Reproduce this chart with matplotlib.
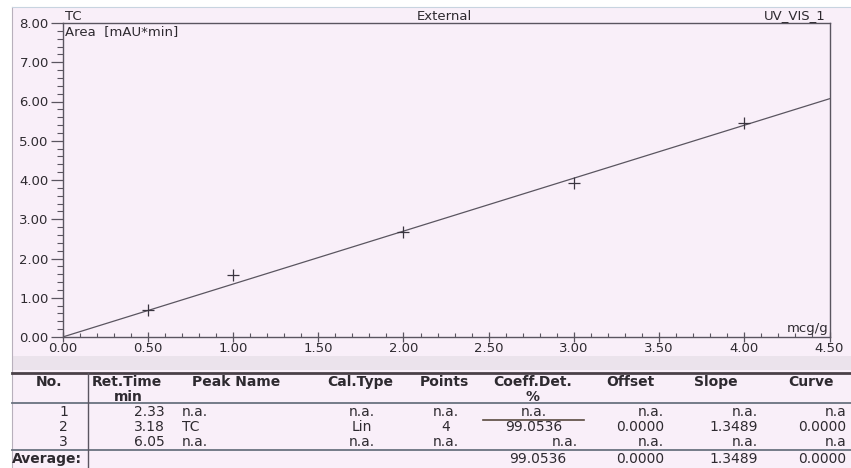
import matplotlib
matplotlib.use("Agg")
import matplotlib.pyplot as plt
from matplotlib.ticker import MultipleLocator, FormatStrFormatter
from matplotlib.lines import Line2D
from matplotlib.patches import Rectangle

# ---------------- data ----------------
conc = [0.5, 1.0, 2.0, 3.0, 4.0]          # mcg/g
area = [0.68, 1.58, 2.67, 3.92, 5.46]     # mAU*min
fit_offset = 0.0
fit_slope = 1.3489
x_range = [0.0, 4.5]
y_range = [0.0, 8.0]

col_no = ["1", "2", "3"]
col_ret = ["2.33", "3.18", "6.05"]
col_peak = ["n.a.", "TC", "n.a."]
col_cal = ["n.a.", "Lin", "n.a."]
col_points = ["n.a.", "4", "n.a."]
col_coeff = ["n.a.", "99.0536", "n.a."]
col_offset = ["n.a.", "0.0000", "n.a."]
col_slope = ["n.a.", "1.3489", "n.a."]
col_curve = ["n.a", "0.0000", "n.a"]
avg_row = ["99.0536", "0.0000", "1.3489", "0.0000"]

# ---------------- figure ----------------
W, H = 851, 468
BG = "#f9eff9"
TXT = "#2e2a30"
LN = "#5a5560"
FONT = "DejaVu Sans"

fig = plt.figure(figsize=(W / 100, H / 100), dpi=100, facecolor=BG)


def fx(x):
    return x / W


def fy(y):
    return 1 - y / H


# page decorations (scan edges)
fig.patches.append(Rectangle((0, fy(7)), 1, 7 / H, transform=fig.transFigure,
                             facecolor="white", edgecolor="none", zorder=0))
fig.patches.append(Rectangle((0, 0), fx(12), 1, transform=fig.transFigure,
                             facecolor="white", edgecolor="none", zorder=0))
fig.patches.append(Rectangle((fx(12), fy(370)), 1, 14 / H, transform=fig.transFigure,
                             facecolor="#ebe3ec", edgecolor="none", zorder=0))
fig.lines.append(Line2D([fx(12), fx(12)], [0, fy(7)], transform=fig.transFigure,
                        color="#b8b0bc", lw=0.8))
fig.lines.append(Line2D([fx(12), 1], [fy(7), fy(7)], transform=fig.transFigure,
                        color="#c8d4e0", lw=0.8))

# axes: left 62.7, right 829.5, top 23, bottom 337 (px)
L, R, T, B = 62.7, 829.5, 23, 337
ax = fig.add_axes([fx(L), fy(B), fx(R - L), (B - T) / H])
ax.set_facecolor(BG)
ax.set_xlim(*x_range)
ax.set_ylim(*y_range)

xl = list(x_range)
yl = [fit_offset + fit_slope * v for v in xl]
ax.plot(xl, yl, color=LN, lw=0.9, zorder=2)
ax.plot(conc, area, linestyle="none", marker="+", markersize=9,
        markeredgewidth=0.9, color="#3a3540", zorder=3)

for s in ax.spines.values():
    s.set_color(LN)
    s.set_linewidth(1.0)

ax.xaxis.set_major_locator(MultipleLocator(0.5))
ax.xaxis.set_minor_locator(MultipleLocator(0.1))
ax.yaxis.set_major_locator(MultipleLocator(1.0))
ax.yaxis.set_minor_locator(MultipleLocator(0.2))
ax.xaxis.set_major_formatter(FormatStrFormatter("%.2f"))
ax.yaxis.set_major_formatter(FormatStrFormatter("%.2f"))
ax.tick_params(axis="y", which="major", direction="out", length=9, width=0.9,
               color=LN, labelsize=9.5, labelcolor=TXT, pad=1)
ax.tick_params(axis="y", which="minor", direction="out", length=4, width=0.8, color=LN)
ax.tick_params(axis="x", which="major", direction="inout", length=7, width=0.9,
               color=LN, labelsize=9.5, labelcolor=TXT, pad=0)
ax.tick_params(axis="x", which="minor", direction="in", length=3, width=0.8, color=LN)
for lab in ax.get_xticklabels() + ax.get_yticklabels():
    lab.set_family(FONT)

fs = 9.5
ax.text(0.003, 1.0 - 2 / (B - T), "Area  [mAU*min]", transform=ax.transAxes,
        ha="left", va="top", fontsize=fs, color=TXT, family=FONT)
ax.text(0.999, 0.005, "mcg/g", transform=ax.transAxes, ha="right", va="bottom",
        fontsize=fs, color=TXT, family=FONT)
fig.text(fx(65), fy(16), "TC", ha="left", va="center", fontsize=fs, color=TXT, family=FONT)
fig.text(fx(444), fy(16), "External", ha="center", va="center", fontsize=fs,
         color=TXT, family=FONT)
fig.text(fx(826), fy(16), "UV_VIS_1", ha="right", va="center", fontsize=fs,
         color=TXT, family=FONT)

# ---------------- table ----------------
tfs = 10
hfs = 10


def hline(y, x0, x1, lw, color=LN):
    fig.lines.append(Line2D([fx(x0), fx(x1)], [fy(y), fy(y)],
                            transform=fig.transFigure, color=color, lw=lw))


hline(373, 12, 851, 2.0, "#4a4048")
hline(403, 12, 851, 1.3, "#6a7280")
hline(450, 12, 851, 1.3, "#6a7280")
hline(420, 483, 584, 1.2, "#5a4a40")
fig.lines.append(Line2D([fx(88), fx(88)], [fy(373), 0], transform=fig.transFigure,
                        color=LN, lw=1.0))


def t(x, y, s, ha="left", bold=False):
    fig.text(fx(x), fy(y), s, ha=ha, va="center", fontsize=hfs if bold else tfs,
             fontweight="bold" if bold else "normal", color=TXT, family=FONT)


hy, hy2 = 382, 397
t(49, hy, "No.", "center", True)
t(92, hy, "Ret.Time", "left", True)
t(128, hy2, "min", "center", True)
t(236, hy, "Peak Name", "center", True)
t(360, hy, "Cal.Type", "center", True)
t(444, hy, "Points", "center", True)
t(533, hy, "Coeff.Det.", "center", True)
t(533, hy2, "%", "center", True)
t(630, hy, "Offset", "center", True)
t(716, hy, "Slope", "center", True)
t(811, hy, "Curve", "center", True)

row_y = [412, 427, 442]
for i, y in enumerate(row_y):
    t(68, y, col_no[i], "right")
    t(165, y, col_ret[i], "right")
    t(182, y, col_peak[i], "left")
    t(362, y, col_cal[i], "center")
    t(446, y, col_points[i], "center")
    if i == 2:
        t(578, y, col_coeff[i], "right")
    else:
        t(534, y, col_coeff[i], "center")
    t(664, y, col_offset[i], "right")
    t(758, y, col_slope[i], "right")
    t(846, y, col_curve[i], "right")

t(12, 459, "Average:", "left", True)
t(538, 459, avg_row[0], "center")
t(664, 459, avg_row[1], "right")
t(758, 459, avg_row[2], "right")
t(846, 459, avg_row[3], "right")

fig.savefig("out.png", dpi=100, facecolor=BG)
